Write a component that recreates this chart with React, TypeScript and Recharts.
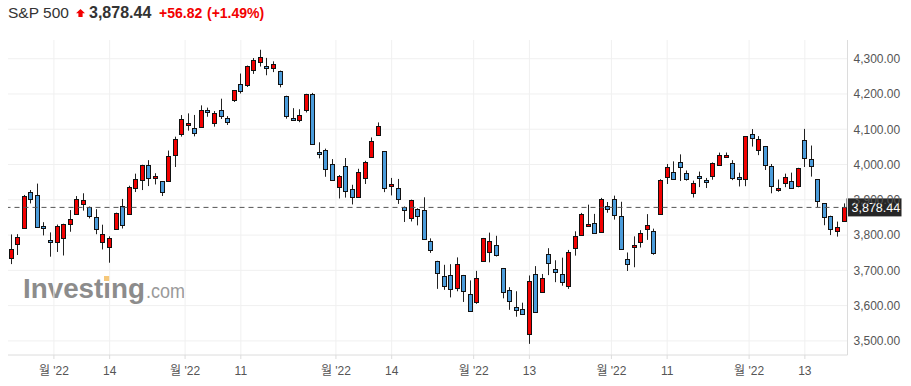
import React from "react";
import { ComposedChart, Bar, XAxis, YAxis, CartesianGrid, ReferenceLine } from "recharts";

// S&P 500 daily candles, 22 Jun - 21 Dec 2022
const DATES = [
  "06-22", "06-23", "06-24", "06-27", "06-28", "06-29", "06-30",
  "07-01", "07-05", "07-06", "07-07", "07-08", "07-11", "07-12", "07-13", "07-14", "07-15",
  "07-18", "07-19", "07-20", "07-21", "07-22", "07-25", "07-26", "07-27", "07-28", "07-29",
  "08-01", "08-02", "08-03", "08-04", "08-05", "08-08", "08-09", "08-10", "08-11", "08-12",
  "08-15", "08-16", "08-17", "08-18", "08-19", "08-22", "08-23", "08-24", "08-25", "08-26",
  "08-29", "08-30", "08-31",
  "09-01", "09-02", "09-06", "09-07", "09-08", "09-09", "09-12", "09-13", "09-14", "09-15",
  "09-16", "09-19", "09-20", "09-21", "09-22", "09-23", "09-26", "09-27", "09-28", "09-29", "09-30",
  "10-03", "10-04", "10-05", "10-06", "10-07", "10-10", "10-11", "10-12", "10-13", "10-14",
  "10-17", "10-18", "10-19", "10-20", "10-21", "10-24", "10-25", "10-26", "10-27", "10-28", "10-31",
  "11-01", "11-02", "11-03", "11-04", "11-07", "11-08", "11-09", "11-10", "11-11", "11-14",
  "11-15", "11-16", "11-17", "11-18", "11-21", "11-22", "11-23", "11-25", "11-28", "11-29", "11-30",
  "12-01", "12-02", "12-05", "12-06", "12-07", "12-08", "12-09", "12-12", "12-13", "12-14",
  "12-15", "12-16", "12-19", "12-20", "12-21",
];

const OPEN = [
  3733.9, 3774.7, 3821.8, 3920.8, 3913.0, 3825.1, 3786.0,
  3781.0, 3792.6, 3832.0, 3858.9, 3888.3, 3880.9, 3852.0, 3779.7, 3764.0, 3818.0,
  3883.8, 3860.7, 3935.3, 3955.5, 3998.4, 3965.7, 3953.2, 3951.4, 4026.1, 4087.3,
  4112.4, 4104.2, 4108.0, 4154.9, 4115.9, 4155.9, 4133.1, 4181.0, 4227.4, 4225.0,
  4269.4, 4290.5, 4280.4, 4273.1, 4266.3, 4195.1, 4133.1, 4126.6, 4153.3, 4198.7,
  4034.6, 4041.3, 4000.7,
  3936.7, 3994.7, 3930.9, 3909.4, 3959.9, 4022.9, 4083.7, 4037.1, 3940.7, 3932.4,
  3880.9, 3849.9, 3875.2, 3871.4, 3782.4, 3727.1, 3682.7, 3686.4, 3651.9, 3687.0, 3633.5,
  3609.8, 3726.5, 3753.3, 3772.0, 3706.7, 3644.8, 3595.9, 3590.8, 3520.4, 3690.4,
  3638.7, 3746.3, 3703.1, 3689.1, 3657.1, 3762.0, 3799.4, 3826.0, 3834.7, 3808.3, 3881.9,
  3901.8, 3852.9, 3733.3, 3767.0, 3780.7, 3817.0, 3810.9, 3859.9, 3963.7, 3978.0,
  4006.4, 3976.8, 3919.3, 3966.4, 3956.2, 3965.5, 4000.3, 4023.3, 4005.4, 3964.2, 3957.2,
  4087.1, 4040.2, 4052.0, 3996.6, 3933.3, 3947.8, 3954.2, 3939.3, 4069.4, 4015.5,
  3958.4, 3890.9, 3853.8, 3810.5, 3839.5,
];

const HIGH = [
  3801.8, 3802.6, 3913.7, 3927.7, 3945.9, 3836.5, 3807.5,
  3829.8, 3832.2, 3870.9, 3910.6, 3918.5, 3880.9, 3873.4, 3829.4, 3796.4, 3863.6,
  3902.4, 3939.8, 3974.1, 3999.3, 4012.4, 3975.3, 3953.2, 4039.6, 4079.0, 4140.2,
  4145.0, 4140.5, 4167.7, 4161.3, 4151.6, 4186.6, 4137.3, 4211.0, 4257.9, 4280.5,
  4301.8, 4325.3, 4302.2, 4292.5, 4266.3, 4195.1, 4159.8, 4156.6, 4200.5, 4203.0,
  4063.0, 4045.0, 4015.4,
  3970.2, 4018.4, 3942.6, 3987.9, 4010.5, 4076.8, 4119.3, 4037.1, 3962.0, 3959.1,
  3881.0, 3900.5, 3876.0, 3907.1, 3790.7, 3727.1, 3715.7, 3717.5, 3736.7, 3687.0, 3671.4,
  3698.4, 3791.9, 3806.9, 3797.9, 3706.7, 3652.2, 3640.7, 3608.3, 3685.4, 3712.0,
  3689.7, 3762.8, 3728.6, 3736.0, 3757.9, 3810.7, 3862.8, 3886.2, 3860.0, 3905.4, 3893.7,
  3911.8, 3894.4, 3750.6, 3796.3, 3814.0, 3859.4, 3818.2, 3958.3, 4001.5, 4009.0,
  4028.8, 3983.1, 3954.3, 3979.9, 3962.0, 4005.9, 4033.8, 4034.0, 4012.3, 3976.8, 4080.1,
  4100.5, 4080.5, 4052.5, 4001.5, 3957.6, 3974.2, 3977.0, 3990.7, 4101.0, 4053.8,
  3958.4, 3890.9, 3854.9, 3838.2, 3889.8,
];

const LOW = [
  3717.7, 3743.5, 3821.8, 3889.7, 3820.1, 3799.0, 3738.7,
  3752.1, 3742.1, 3809.4, 3858.9, 3869.3, 3847.2, 3802.4, 3759.1, 3721.6, 3817.2,
  3818.6, 3860.7, 3922.0, 3927.6, 3938.9, 3943.5, 3910.7, 3951.4, 3993.0, 4079.2,
  4096.0, 4079.8, 4108.0, 4135.4, 4107.3, 4129.0, 4112.1, 4177.3, 4201.4, 4219.8,
  4256.9, 4277.8, 4253.1, 4262.0, 4218.7, 4129.9, 4124.0, 4120.0, 4147.6, 4057.7,
  4017.4, 3965.2, 3954.5,
  3903.7, 3906.2, 3886.8, 3906.0, 3944.8, 4022.9, 4083.7, 3921.7, 3912.4, 3888.3,
  3837.1, 3838.5, 3827.5, 3789.5, 3749.5, 3647.5, 3644.8, 3623.3, 3640.6, 3610.4, 3584.1,
  3604.9, 3726.5, 3722.7, 3739.2, 3620.7, 3588.1, 3568.5, 3573.9, 3491.6, 3579.7,
  3638.7, 3686.5, 3666.5, 3656.4, 3647.4, 3741.7, 3799.4, 3824.1, 3803.8, 3808.3, 3863.2,
  3843.8, 3758.7, 3698.2, 3708.8, 3764.7, 3786.3, 3744.2, 3859.9, 3944.8, 3956.4,
  3953.2, 3954.3, 3906.5, 3936.0, 3933.3, 3956.9, 3998.7, 4020.8, 3955.8, 3937.7, 3938.6,
  4050.9, 4026.6, 3984.5, 3918.4, 3922.7, 3935.8, 3933.0, 3935.3, 3993.0, 3965.7,
  3879.5, 3827.9, 3800.0, 3795.6, 3839.5,
];

const CLOSE = [
  3759.9, 3795.7, 3911.7, 3900.1, 3821.6, 3818.8, 3785.4,
  3825.3, 3831.4, 3845.1, 3902.6, 3899.4, 3854.4, 3818.8, 3801.8, 3790.4, 3863.2,
  3830.9, 3936.7, 3959.9, 3999.0, 3961.6, 3966.8, 3921.1, 4023.6, 4072.4, 4130.3,
  4118.6, 4091.2, 4155.2, 4151.9, 4145.2, 4140.1, 4122.5, 4210.2, 4207.3, 4280.2,
  4297.1, 4305.2, 4274.0, 4283.7, 4228.5, 4138.0, 4128.7, 4140.8, 4199.1, 4057.7,
  4030.6, 3986.2, 3955.0,
  3966.9, 3924.3, 3908.2, 3979.9, 4006.2, 4067.4, 4110.4, 3932.7, 3946.0, 3901.4,
  3873.3, 3899.9, 3855.9, 3789.9, 3758.0, 3693.2, 3655.0, 3647.3, 3719.0, 3640.5, 3585.6,
  3678.4, 3790.9, 3783.3, 3744.5, 3639.7, 3612.4, 3588.8, 3577.0, 3669.9, 3583.1,
  3678.0, 3720.0, 3695.2, 3665.8, 3752.8, 3797.3, 3859.1, 3830.6, 3807.3, 3901.1, 3872.0,
  3856.1, 3759.7, 3719.9, 3770.6, 3806.8, 3828.1, 3748.6, 3956.4, 3992.9, 3957.3,
  3991.7, 3958.8, 3946.6, 3965.3, 3949.9, 4003.6, 4027.3, 4026.1, 3963.9, 3957.6, 4080.1,
  4076.6, 4071.7, 3998.8, 3941.3, 3933.9, 3963.5, 3934.4, 3990.6, 4019.7, 3995.3,
  3895.8, 3852.4, 3817.7, 3821.6, 3878.44,
];

// x ticks: month boundaries sit between two candles, mid-month ticks on a candle
const X_TICKS = [6.5, 15, 26.5, 35, 49.5, 58, 70.5, 79, 91.5, 100, 112.5, 121];
const X_TICK_LABELS = ["월 '22", "14", "월 '22", "11", "월 '22", "14", "월 '22", "13", "월 '22", "11", "월 '22", "13"];
const Y_TICKS = [3500, 3600, 3700, 3800, 3900, 4000, 4100, 4200, 4300];

const LAST = 3878.44;
const CHANGE = "+56.82";
const CHANGE_PCT = "(+1.49%)";

const UP = "#f20000";
const DOWN = "#4b9cdb";
const FONT = "'Liberation Sans', Arial, 'Noto Sans CJK KR', sans-serif";

const rows = DATES.map((d, i) => ({
  d,
  i,
  open: OPEN[i],
  close: CLOSE[i],
  high: HIGH[i],
  low: LOW[i],
  range: [LOW[i], HIGH[i]],
}));

const fmt = (v: number) =>
  v.toLocaleString("en-US", { minimumFractionDigits: 2, maximumFractionDigits: 2 });

const Candle = (props: any) => {
  const { x, y, width, height, payload } = props;
  if (height == null || !payload) return null;
  const { open, close, high, low } = payload;
  const k = height / (high - low);
  const c = Math.round(x + width / 2 - 0.5);
  const top = y + (high - Math.max(open, close)) * k;
  const bot = y + (high - Math.min(open, close)) * k;
  const ry = Math.round(top) + 0.5;
  const rh = Math.max(2, Math.round(bot - top));
  return (
    <g>
      <line x1={c + 0.5} x2={c + 0.5} y1={y} y2={y + height} stroke="#222" strokeWidth={1} />
      <rect
        x={c - 1.5}
        y={ry}
        width={4}
        height={rh}
        fill={close >= open ? UP : DOWN}
        stroke="#111"
        strokeWidth={1}
      />
    </g>
  );
};

const PriceTag = (props: any) => {
  const { viewBox } = props;
  if (!viewBox) return null;
  const x = viewBox.x + viewBox.width;
  const y = viewBox.y;
  return (
    <g>
      <rect x={x - 1} y={y - 9} width={55} height={18} fill="#262626" />
      <text x={x + 4} y={y + 4.5} fill="#fff" fontSize={12.5} fontFamily={FONT}>
        {fmt(LAST)}
      </text>
    </g>
  );
};

function Header() {
  return (
    <svg width={320} height={26} style={{ position: "absolute", left: 0, top: 0 }}>
      <g fontFamily={FONT}>
        <text x={8} y={17.5} fontSize={15.5} fill="#333">S&amp;P 500</text>
        <polygon points="80.5,9 85,13.2 82.6,13.2 82.6,17 78.4,17 78.4,13.2 76,13.2" fill={UP} />
        <text x={89} y={17.5} fontSize={16} fontWeight="bold" fill="#333">{fmt(LAST)}</text>
        <text x={159} y={17.5} fontSize={14} fontWeight="bold" fill={UP}>{CHANGE}</text>
        <text x={207} y={17.5} fontSize={14} fontWeight="bold" fill={UP}>{CHANGE_PCT}</text>
      </g>
    </svg>
  );
}

function Watermark() {
  return (
    <svg width={200} height={40} style={{ position: "absolute", left: 0, top: 270 }}>
      <text x={23} y={28} fontSize={28} fontWeight="bold" fill="#8c8c8c" fontFamily={FONT}
        textLength={122} lengthAdjust="spacingAndGlyphs">Investing</text>
      <rect x={104} y={6} width={6} height={5} fill="#f6c87a" />
      <text x={146} y={28} fontSize={21} fill="#9a9a9a" fontFamily={FONT}
        textLength={39} lengthAdjust="spacingAndGlyphs">.com</text>
    </svg>
  );
}

export default function App() {
  return (
    <div style={{ position: "absolute", left: 0, top: 0, width: 911, height: 386, background: "#fff", fontFamily: FONT }}>
      <Header />
      <Watermark />
      <div style={{ position: "absolute", left: 0, top: 0 }}>
        <ComposedChart width={911} height={386} data={rows} margin={{ top: 40, right: 0, bottom: 0, left: 8 }}>
          <CartesianGrid xAxisId="n" yAxisId="p" stroke="#f0f0f0" syncWithTicks />
          <XAxis xAxisId="c" dataKey="d" type="category" hide height={0} />
          <XAxis
            xAxisId="n"
            dataKey="i"
            type="number"
            domain={[-0.5, 127.5]}
            ticks={X_TICKS}
            interval={0}
            tickFormatter={(v: number) => X_TICK_LABELS[X_TICKS.indexOf(v)] ?? ""}
            height={31}
            stroke="#dcdcdc"
            tickSize={4}
            tickMargin={7}
            tick={{ fill: "#555", fontSize: 12 }}
          />
          <YAxis
            yAxisId="p"
            orientation="right"
            domain={[3460, 4353]}
            ticks={Y_TICKS}
            interval={0}
            width={63.5}
            stroke="#dcdcdc"
            tickLine={false}
            tickSize={0}
            tickMargin={6}
            tick={{ fill: "#555", fontSize: 12 }}
            tickFormatter={fmt}
          />
          <Bar xAxisId="c" yAxisId="p" dataKey="range" shape={Candle} isAnimationActive={false} />
          <ReferenceLine
            xAxisId="n"
            yAxisId="p"
            y={LAST}
            stroke="#555"
            strokeDasharray="5 4"
            label={<PriceTag />}
          />
        </ComposedChart>
      </div>
    </div>
  );
}
